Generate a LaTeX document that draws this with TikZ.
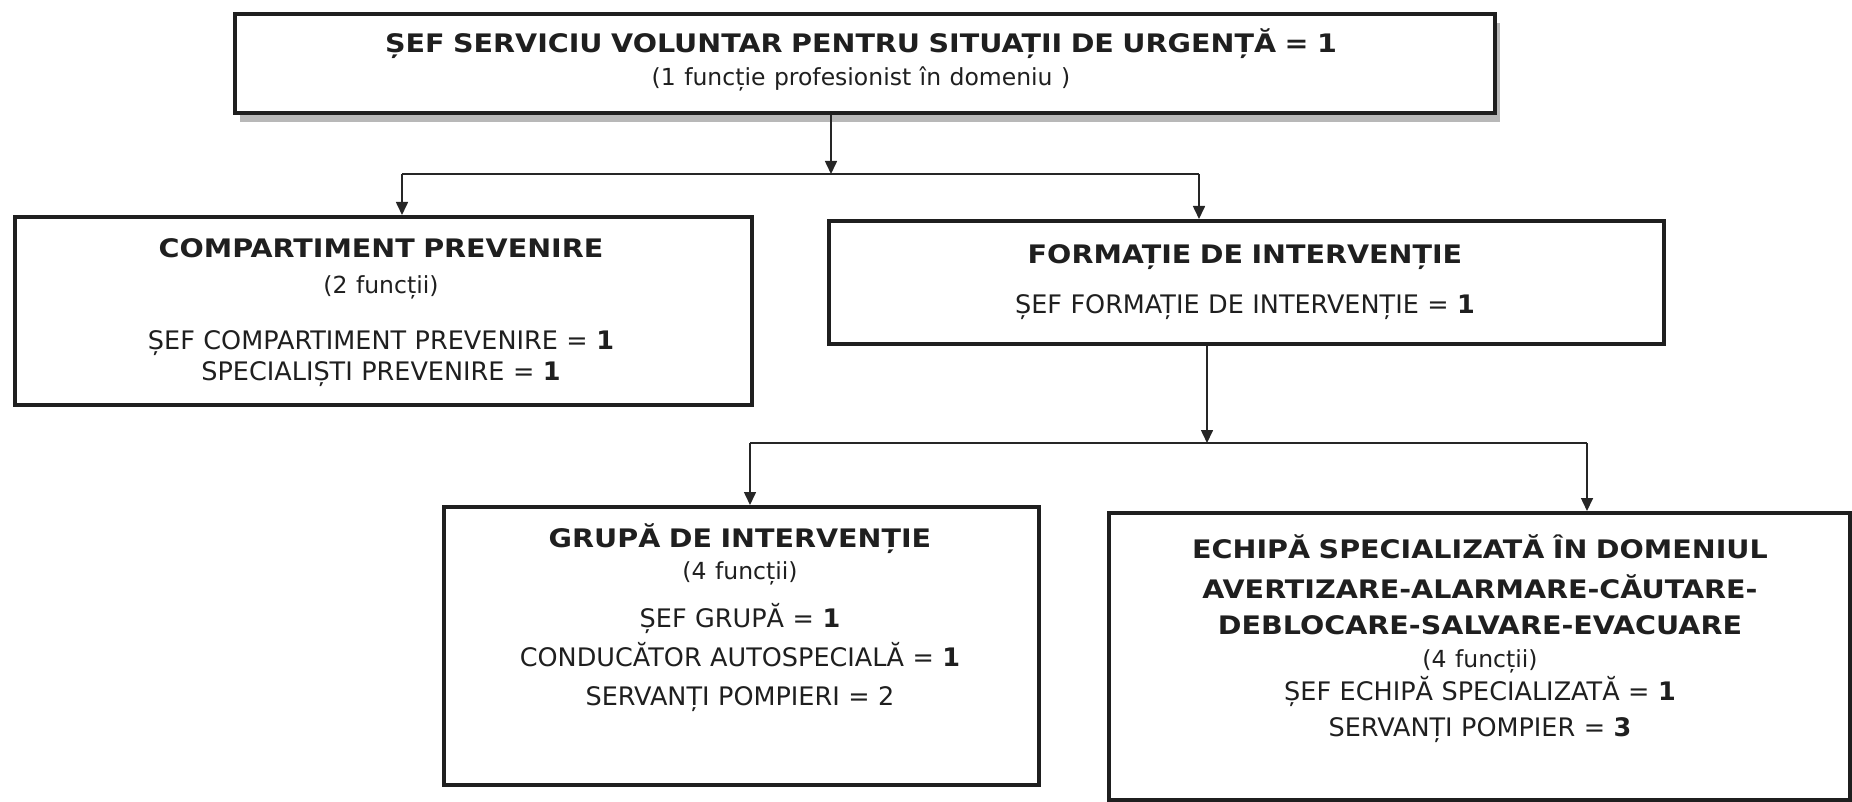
\documentclass[tikz,border=0pt]{standalone}
\usepackage{fontspec}
\setmainfont{DejaVu Sans}
\newfontfamily\hb{DejaVu Sans}[FakeStretch=1.12]
\usetikzlibrary{arrows.meta,shadows}
\begin{document}
\begin{tikzpicture}[x=1pt,y=-1pt,
  box/.style={draw=black!88, line width=3.8pt, fill=white, inner sep=0pt, anchor=north west},
  txt/.style={align=center, inner sep=0pt, anchor=base, text=black!88,
    font=\fontsize{25.5}{32}\selectfont},
  conn/.style={draw=black!85, line width=1.6pt},
  arr/.style={conn, -{Triangle[length=13pt,width=12pt]}},
]
\useasboundingbox (0,0) rectangle (1852,802);
\newcommand{\ttl}[1]{{\hb\bfseries #1}}
\newcommand{\sml}[1]{{\fontsize{23.5}{32}\selectfont #1}}
\lineskiplimit=-100pt\relax
\hyphenpenalty=10000\relax

% boxes
\node[box, minimum width=1260pt, minimum height=99pt,
      drop shadow={shadow xshift=5pt, shadow yshift=-9pt, fill=black!28, opacity=1}] (top) at (233,12) {};
\node[box, minimum width=737pt, minimum height=188pt] (comp) at (13,215) {};
\node[box, minimum width=835pt, minimum height=123pt] (form) at (827,219) {};
\node[box, minimum width=595pt, minimum height=278pt] (grupa) at (442,505) {};
\node[box, minimum width=741pt, minimum height=287pt] (echipa) at (1107,511) {};

% texts
\node[txt, text width=1200pt] (topT) at (861,53)
  {\ttl{ȘEF SERVICIU VOLUNTAR PENTRU SITUAȚII DE URGENȚĂ = 1}\\[1pt]
   \sml{(1 funcție profesionist în domeniu )}};
\node[txt, text width=700pt] (compT) at (381,258)
  {\ttl{COMPARTIMENT PREVENIRE}\\[4pt]
   \sml{(2 funcții)}\\[24pt]
   ȘEF COMPARTIMENT PREVENIRE = \textbf{1}\\[-1pt]
   SPECIALIȘTI PREVENIRE = \textbf{1}};
\node[txt, text width=800pt] (formT) at (1245,264)
  {\ttl{FORMAȚIE DE INTERVENȚIE}\\[18pt]
   ȘEF FORMAȚIE DE INTERVENȚIE = \textbf{1}};
\node[txt, text width=560pt] (grupaT) at (740,547)
  {\ttl{GRUPĂ DE INTERVENȚIE}\\[0pt]
   \sml{(4 funcții)}\\[16pt]
   ȘEF GRUPĂ = \textbf{1}\\[7pt]
   CONDUCĂTOR AUTOSPECIALĂ = \textbf{1}\\[7pt]
   SERVANȚI POMPIERI = 2};
\node[txt, text width=720pt] (echipaT) at (1480,558)
  {\ttl{ECHIPĂ SPECIALIZATĂ ÎN DOMENIUL}\\[8pt]
   \ttl{AVERTIZARE-ALARMARE-CĂUTARE-}\\[4pt]
   \ttl{DEBLOCARE-SALVARE-EVACUARE}\\[1pt]
   \sml{(4 funcții)}\\[1pt]
   ȘEF ECHIPĂ SPECIALIZATĂ = \textbf{1}\\[4pt]
   SERVANȚI POMPIER = \textbf{3}};

% connectors
\coordinate (j1) at (831,174);
\coordinate (h1L) at (402,174);
\coordinate (h1R) at (1199,174);
\draw[arr] (top.south -| j1) -- (j1);
\draw[conn] (h1L) -- (h1R);
\draw[arr] (h1L) -- (h1L |- comp.north);
\draw[arr] (h1R) -- (h1R |- form.north);

\coordinate (j2) at (1207,443);
\coordinate (h2L) at (750,443);
\coordinate (h2R) at (1587,443);
\draw[arr] (form.south -| j2) -- (j2);
\draw[conn] (h2L) -- (h2R);
\draw[arr] (h2L) -- (h2L |- grupa.north);
\draw[arr] (h2R) -- (h2R |- echipa.north);
\end{tikzpicture}
\end{document}
